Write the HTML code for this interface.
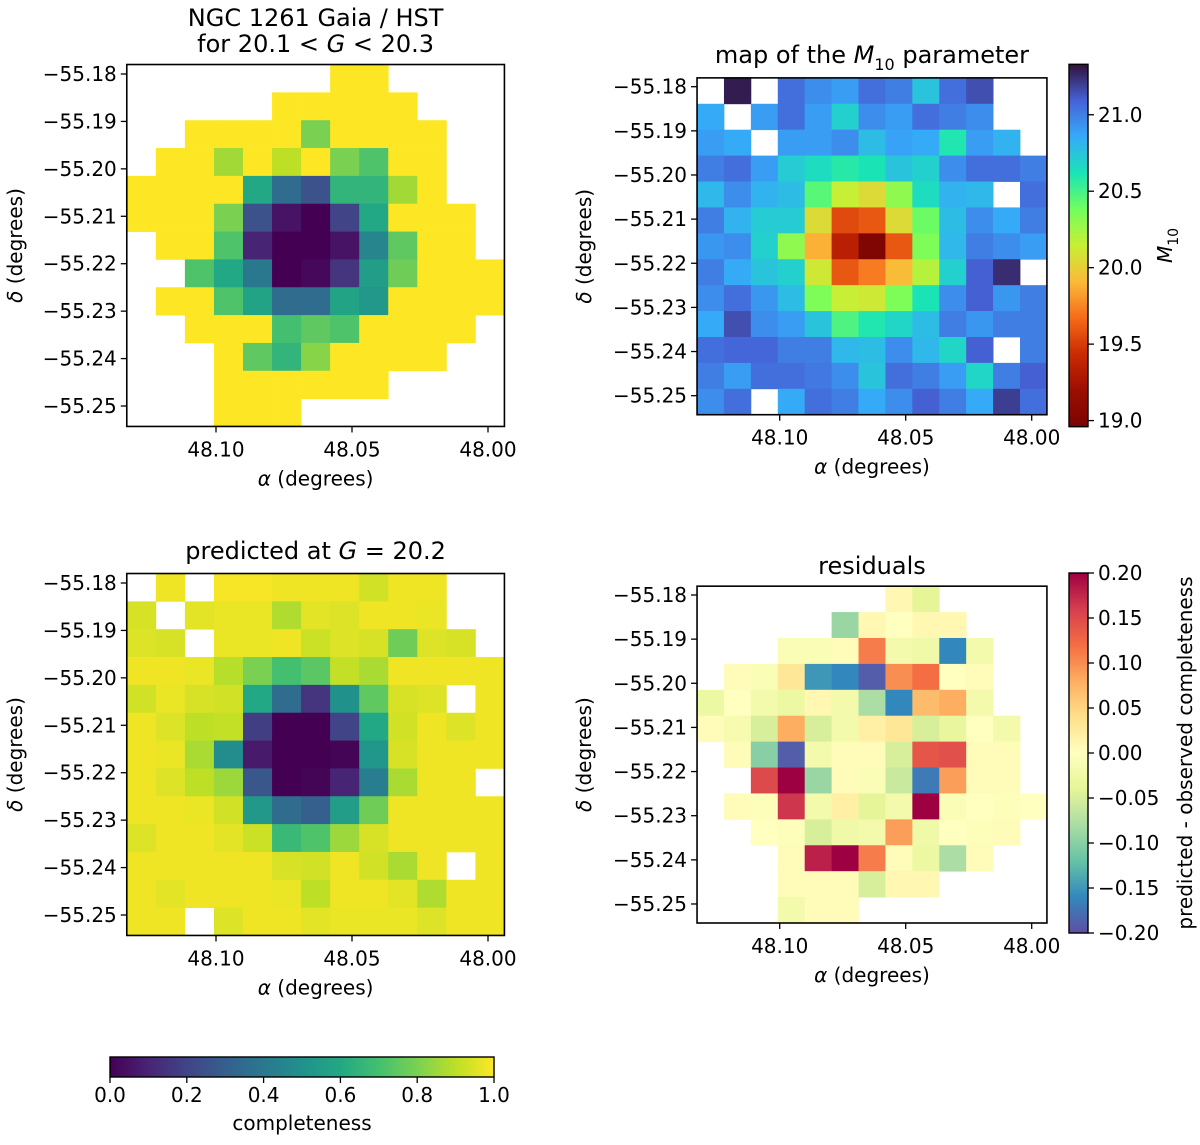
<!DOCTYPE html>
<html><head><meta charset="utf-8"><style>
html,body{margin:0;padding:0;background:#fff;}
svg text{font-family:"DejaVu Sans","Liberation Sans",sans-serif;font-size:20px;fill:#000;}
svg text.title{font-size:24px;}
</style></head><body>
<svg id="fig" xmlns="http://www.w3.org/2000/svg" width="1200" height="1140" viewBox="0 0 1200 1140">
<defs id="defs"></defs>
<g id="root"></g>
</svg>
<script>
// ---------------- DATA ----------------
const N = null;
const observedCompleteness = [
[N,N,N,N,N,N,N,1,1,N,N,N,N],
[N,N,N,N,N,1,1,1,1,1,N,N,N],
[N,N,1,1,1,1,0.8,1,1,1,1,N,N],
[N,1,1,0.86,1,0.9,1,0.8,0.72,1,1,N,N],
[1,1,1,1,0.6,0.35,0.25,0.65,0.65,0.86,1,N,N],
[1,1,1,0.8,0.25,0.05,0.0,0.2,0.6,1,1,1,N],
[N,1,1,0.72,0.1,0.0,0.0,0.05,0.45,0.75,1,1,N],
[N,N,0.72,0.6,0.4,0.0,0.02,0.15,0.55,0.78,1,1,1],
[N,1,1,0.72,0.58,0.35,0.35,0.58,0.53,1,1,1,1],
[N,N,1,1,1,0.7,0.75,0.72,1,1,1,1,N],
[N,N,N,1,0.75,0.65,0.82,1,1,1,1,N,N],
[N,N,N,1,1,1,1,1,1,N,N,N,N],
[N,N,N,1,1,1,N,N,N,N,N,N,N]];
const m10Values = [
[N,21.3,N,21.05,20.95,20.9,21.05,21.0,20.75,21.05,21.15,N,N],
[20.85,N,20.9,21.05,20.9,20.7,20.95,20.9,21.05,21.0,20.95,N,N],
[20.9,20.85,N,20.9,20.9,20.95,20.78,20.88,20.85,20.6,20.9,20.82,N],
[21.0,21.05,20.9,20.72,20.65,20.58,20.62,20.75,20.7,20.95,21.05,21.05,21.0],
[20.8,20.95,20.82,20.78,20.45,20.15,20.05,20.3,20.65,20.82,20.8,N,21.05],
[21.0,20.82,20.72,20.72,20.05,19.55,19.6,20.05,20.4,20.78,20.95,20.85,21.0],
[20.92,20.95,20.7,20.3,19.88,19.35,19.0,19.6,20.35,20.8,21.0,20.95,20.9],
[21.0,20.85,20.75,20.7,20.12,19.6,19.72,19.92,20.2,20.7,21.1,21.25,N],
[20.95,21.05,20.92,20.78,20.35,20.15,20.12,20.35,20.62,20.95,21.1,20.92,21.0],
[20.85,21.15,20.95,20.9,20.75,20.48,20.6,20.68,20.78,21.0,20.92,21.0,21.0],
[21.05,21.08,21.08,21.0,21.0,20.8,20.78,20.95,20.8,20.68,21.1,N,21.0],
[21.0,20.9,21.05,21.05,21.02,20.95,20.75,21.05,21.0,20.9,20.68,21.0,21.1],
[20.95,21.05,N,20.85,21.05,21.0,20.85,20.95,21.1,21.0,20.85,21.2,21.05]];
const predictedCompleteness = [
[N,0.98,N,0.99,0.99,0.98,0.98,0.98,0.93,0.98,0.98,N,N],
[0.94,N,0.96,0.97,0.97,0.88,0.96,0.95,0.98,0.98,0.97,N,N],
[0.95,0.94,N,0.97,0.97,0.98,0.92,0.95,0.94,0.78,0.95,0.94,N],
[0.98,0.98,0.97,0.89,0.8,0.7,0.74,0.91,0.87,0.98,0.98,0.98,0.98],
[0.93,0.97,0.94,0.93,0.6,0.35,0.15,0.5,0.75,0.94,0.95,N,0.98],
[0.98,0.95,0.9,0.91,0.18,0.0,0.0,0.2,0.6,0.93,0.98,0.95,0.98],
[0.98,0.97,0.87,0.48,0.07,0.0,0.0,0.01,0.52,0.94,0.98,0.98,0.98],
[0.98,0.95,0.9,0.85,0.27,0.0,0.01,0.1,0.42,0.87,0.98,0.98,N],
[0.98,0.98,0.97,0.93,0.53,0.35,0.3,0.55,0.78,0.98,0.98,0.98,0.98],
[0.95,0.98,0.98,0.96,0.92,0.67,0.72,0.85,0.94,0.98,0.98,0.98,0.98],
[0.98,0.98,0.98,0.98,0.98,0.94,0.93,0.98,0.93,0.87,0.98,N,0.98],
[0.98,0.96,0.98,0.98,0.98,0.97,0.9,0.98,0.98,0.96,0.88,0.98,0.98],
[0.98,0.98,N,0.95,0.98,0.98,0.96,0.97,0.97,0.97,0.95,0.98,0.98]];
const residualValues = [
[N,N,N,N,N,N,N,0.01,-0.04,N,N,N,N],
[N,N,N,N,N,-0.09,0.01,0.0,0.01,0.01,N,N,N],
[N,N,N,-0.01,-0.01,0.005,0.11,-0.02,-0.025,-0.16,-0.02,N,N],
[N,0.005,-0.01,0.03,-0.15,-0.16,-0.19,0.1,0.12,0.0,0.005,N,N],
[-0.03,0.0,-0.02,-0.03,0.01,-0.02,-0.08,-0.16,0.07,0.08,-0.02,N,N],
[0.005,-0.015,-0.05,0.08,-0.05,-0.02,0.02,0.03,-0.05,-0.035,0.0,-0.02,N],
[N,0.005,-0.1,-0.19,-0.02,0.005,0.005,-0.05,0.14,0.145,0.005,0.005,N],
[N,N,0.15,0.2,-0.09,0.005,-0.01,-0.06,-0.17,0.09,0.005,0.005,N],
[N,0.005,-0.005,0.165,-0.02,0.02,-0.04,-0.02,0.2,-0.01,0.0,-0.005,0.0],
[N,N,0.0,-0.005,-0.05,-0.025,-0.02,0.09,-0.025,0.0,-0.005,0.005,N],
[N,N,N,0.005,0.18,0.2,0.11,0.005,-0.03,-0.08,0.005,N,N],
[N,N,N,0.005,0.005,0.005,-0.05,0.01,0.01,N,N,N,N],
[N,N,N,-0.02,0.005,0.005,N,N,N,N,N,N,N]];
const decTickValues = [-55.18,-55.19,-55.20,-55.21,-55.22,-55.23,-55.24,-55.25];
const raTickValues = [48.10,48.05,48.00];
const m10CbarTicks = [21.0,20.5,20.0,19.5,19.0];
const residCbarTicks = [0.20,0.15,0.10,0.05,0.00,-0.05,-0.10,-0.15,-0.20];
const complCbarTicks = [0.0,0.2,0.4,0.6,0.8,1.0];

// grid geometry (data coords)
const RA_LEFT = 48.1328, D_RA = 0.01068, DEC_TOP = -55.1780, D_DEC = 0.00587;

// ---------------- colormaps ----------------
const VIRIDIS = ["#440154","#482475","#414487","#355f8d","#2a788e","#21918c","#22a884","#44bf70","#7ad151","#bddf26","#fde725"];
const TURBO = ["#30123b","#4662d7","#36aaf9","#1ae4b6","#72fe5e","#c8ef34","#faba39","#f66b19","#ca2a04","#9b0f01","#7a0403"];
const SPECTRAL = ["#9e0142","#d53e4f","#f46d43","#fdae61","#fee08b","#ffffbf","#e6f598","#abdda4","#66c2a5","#3288bd","#5e4fa2"];
function hex2rgb(h){return [parseInt(h.slice(1,3),16),parseInt(h.slice(3,5),16),parseInt(h.slice(5,7),16)];}
function cmap(list,t){
  t=Math.max(0,Math.min(1,t));
  const p=t*(list.length-1), i=Math.min(list.length-2,Math.floor(p)), f=p-i;
  const a=hex2rgb(list[i]), b=hex2rgb(list[i+1]);
  return "rgb("+a.map((v,k)=>Math.round(v+(b[k]-v)*f)).join(",")+")";
}

const NS="http://www.w3.org/2000/svg";
const root=document.getElementById("root");
const defs=document.getElementById("defs");
function el(tag,attrs,parent){
  const e=document.createElementNS(NS,tag);
  for(const k in attrs) e.setAttribute(k,attrs[k]);
  (parent||root).appendChild(e); return e;
}
function fmtNum(v,d){const s=Math.abs(v).toFixed(d);return (v<0?"\u2212":"")+s;}

// ---------------- panels ----------------
function makePanel(cfg){
  const g=el("g",{});
  
  
  const xS = ra => cfg.x0 + (48.10-ra)*cfg.kx;
  const yS = dec => cfg.y0 + (-55.18-dec)*cfg.ky;
  const left=xS(RA_LEFT), right=xS(RA_LEFT-13*D_RA), top=yS(DEC_TOP), bottom=yS(DEC_TOP-13*D_DEC);
  const cells=el("g",{},g);
  
  
  cfg.data.forEach((row,r)=>row.forEach((v,c)=>{
    if(v===null) return;
    const x1=xS(RA_LEFT-c*D_RA), x2=xS(RA_LEFT-(c+1)*D_RA);
    const y1=yS(DEC_TOP-r*D_DEC), y2=yS(DEC_TOP-(r+1)*D_DEC);
    const rc=el("rect",{x:x1,y:y1,width:x2-x1+0.4,height:y2-y1+0.4,fill:cfg.color(v)},cells);
    
    
  }));
  const fr=el("rect",{x:left,y:top,width:right-left,height:bottom-top,fill:"none",stroke:"#000","stroke-width":1.6},g);
  
  
  decTickValues.forEach(d=>{
    const y=yS(d);
    el("line",{x1:left-6,x2:left,y1:y,y2:y,stroke:"#000","stroke-width":1.3},g);
    const t=el("text",{x:left-10,y:y,"text-anchor":"end","dominant-baseline":"central"},g);
    t.textContent=fmtNum(d,2);
    
    
  });
  raTickValues.forEach(a=>{
    const x=xS(a);
    el("line",{x1:x,x2:x,y1:bottom,y2:bottom+6,stroke:"#000","stroke-width":1.3},g);
    const t=el("text",{x:x,y:bottom+30,"text-anchor":"middle"},g);
    t.textContent=a.toFixed(2);
    
    
  });
  const cx=(left+right)/2, cy=(top+bottom)/2;
  const xl=el("text",{x:cx,y:bottom+59,"text-anchor":"middle"},g);
  xl.innerHTML='<tspan font-style="italic">α</tspan> (degrees)';
  
  
  const yl=el("text",{x:0,y:0,"text-anchor":"middle",transform:`translate(${cfg.ylabX},${cy}) rotate(-90)`},g);
  yl.innerHTML='<tspan font-style="italic">δ</tspan> (degrees)';
  
  
  cfg.titles.forEach(([html,y])=>{
    const t=el("text",{x:cx,y:y,"text-anchor":"middle","class":"title"},g);
    t.innerHTML=html;
    
    
  });
}

const viridisC = v=>cmap(VIRIDIS,v);
makePanel({name:"observed-panel",data:observedCompleteness,color:viridisC,x0:216,kx:2720,y0:74,ky:4743,ylabX:22,
  titles:[["NGC 1261 Gaia / HST",26],['for 20.1 &lt; <tspan font-style="italic">G</tspan> &lt; 20.3',52]]});
makePanel({name:"m10-panel",data:m10Values,color:v=>cmap(TURBO,(21.33-v)/(21.33-18.96)),x0:779.7,kx:2520,y0:86.7,ky:4414,ylabX:591,
  titles:[['map of the <tspan font-style="italic">M</tspan><tspan font-size="16" dy="7">10</tspan><tspan dy="-7"> parameter</tspan>',63]]});
makePanel({name:"predicted-panel",data:predictedCompleteness,color:viridisC,x0:216,kx:2720,y0:583,ky:4743,ylabX:22,
  titles:[['predicted at <tspan font-style="italic">G</tspan> = 20.2',559]]});
makePanel({name:"residuals-panel",data:residualValues,color:v=>cmap(SPECTRAL,(0.2-v)/0.4),x0:779.7,kx:2520,y0:595,ky:4414,ylabX:591,
  titles:[["residuals",574]]});

// ---------------- colorbars ----------------
function gradient(id,list,x2,y2){
  const lg=el("linearGradient",{id:id,x1:0,y1:0,x2:x2,y2:y2},defs);
  list.forEach((c,i)=>el("stop",{offset:(i/(list.length-1)),"stop-color":c},lg));
}
gradient("gTurbo",TURBO,0,1);
gradient("gSpec",SPECTRAL,0,1);
gradient("gVir",VIRIDIS,1,0);

function vbar(name,gid,top,bot,vmax,vmin,ticks,dec,labelHtml,labX){
  const g=el("g",{});
  
  
  el("rect",{x:1069,y:top,width:19,height:bot-top,fill:`url(#${gid})`,stroke:"#000","stroke-width":1.4},g);
  const yS=v=>top+(vmax-v)/(vmax-vmin)*(bot-top);
  ticks.forEach(v=>{
    const y=yS(v);
    el("line",{x1:1088,x2:1094,y1:y,y2:y,stroke:"#000","stroke-width":1.3},g);
    const t=el("text",{x:1098,y:y,"dominant-baseline":"central"},g);
    t.textContent=fmtNum(v,dec);
    
    
  });
  const l=el("text",{x:0,y:0,"text-anchor":"middle",transform:`translate(${labX},${(top+bot)/2}) rotate(-90)`},g);
  l.innerHTML=labelHtml;
  
  
}
vbar("m10-colorbar","gTurbo",64.3,426.7,21.33,18.96,m10CbarTicks,1,'<tspan font-style="italic">M</tspan><tspan font-size="14" dy="6">10</tspan>',1172);
vbar("residual-colorbar","gSpec",573,933,0.2,-0.2,residCbarTicks,2,'predicted - observed completeness',1192);

// horizontal completeness colorbar
(function(){
  const g=el("g",{});
  
  
  const L=110,R=494,T=1057,B=1077;
  el("rect",{x:L,y:T,width:R-L,height:B-T,fill:"url(#gVir)",stroke:"#000","stroke-width":1.4},g);
  complCbarTicks.forEach(v=>{
    const x=L+v*(R-L);
    el("line",{x1:x,x2:x,y1:B,y2:B+6,stroke:"#000","stroke-width":1.3},g);
    const t=el("text",{x:x,y:B+25,"text-anchor":"middle"},g);
    t.textContent=v.toFixed(1);
    
    
  });
  const l=el("text",{x:(L+R)/2,y:1130,"text-anchor":"middle"},g);
  l.textContent="completeness";
  
  
})();
</script>
</body></html>
